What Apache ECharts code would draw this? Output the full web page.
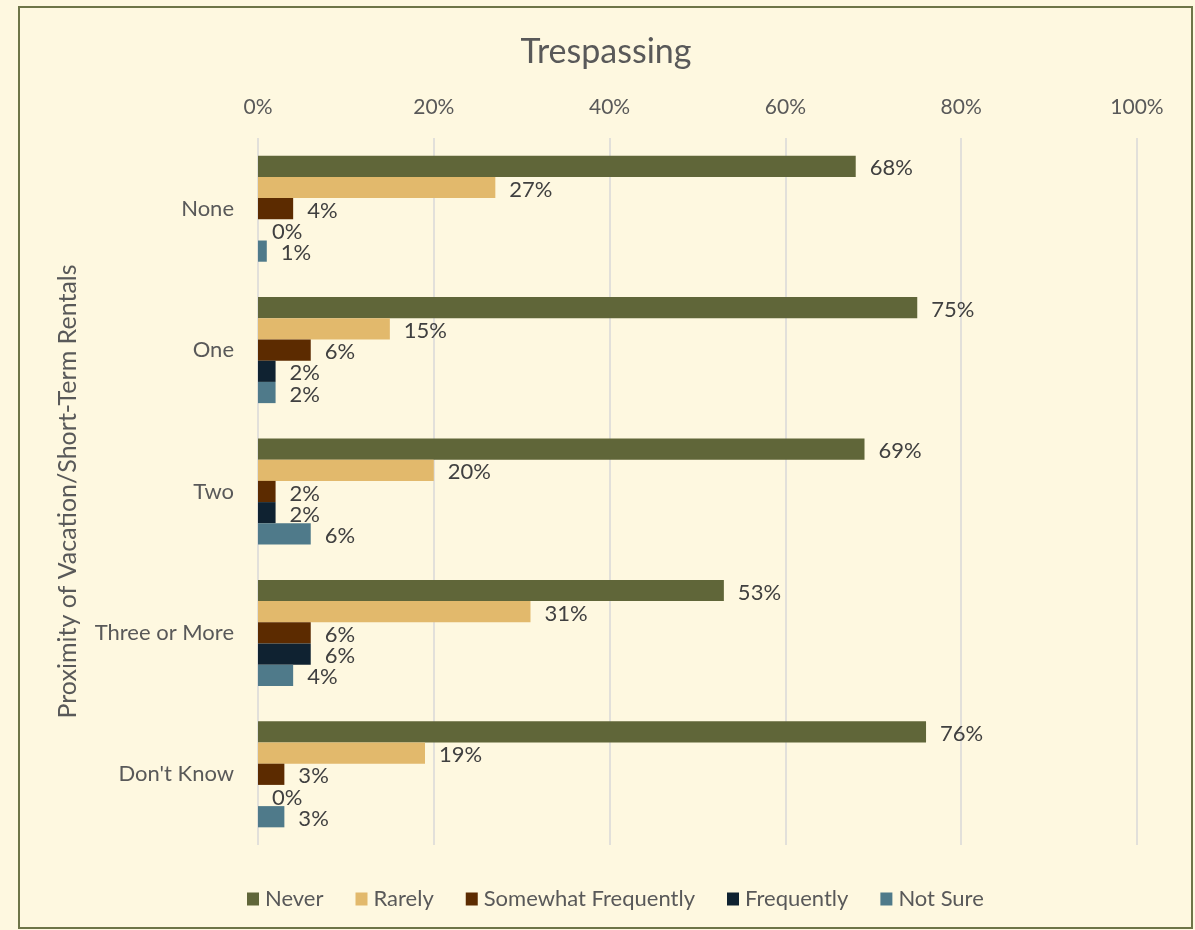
<!DOCTYPE html>
<html>
<head>
<meta charset="utf-8">
<script src="https://cdn.jsdelivr.net/npm/echarts@6/dist/echarts.min.js"></script>
<style>
  html, body { margin: 0; padding: 0; background: #fef8e0; }
  #chart { width: 1195px; height: 930px; }
</style>
</head>
<body>
<div id="chart"></div>
<script>
// 类别（从上到下）
const categories = ['None', 'One', 'Two', 'Three or More', "Don't Know"]
// 各系列的百分比数值
const seriesNames = ['Never', 'Rarely', 'Somewhat Frequently', 'Frequently', 'Not Sure']
const never = [68, 75, 69, 53, 76]
const rarely = [27, 15, 20, 31, 19]
const somewhatFrequently = [4, 6, 2, 6, 3]
const frequently = [0, 2, 2, 6, 0]
const notSure = [1, 2, 6, 4, 3]
const xTicks = [0, 20, 40, 60, 80, 100]

const colors = ['#606639', '#e2b96c', '#5c2b00', '#0f2231', '#4f7a8a']
const fontFamily = 'Lato, "Noto Sans", sans-serif'
const allValues = [never, rarely, somewhatFrequently, frequently, notSure]

const chart = echarts.init(document.getElementById('chart'))

const option = {
  backgroundColor: '#fef8e0',
  color: colors,
  textStyle: { fontFamily: fontFamily },
  title: {
    text: 'Trespassing',
    left: 606,
    top: 35,
    padding: 0,
    textAlign: 'center',
    textStyle: { fontSize: 34, fontWeight: 'normal', color: '#595959', fontFamily: fontFamily }
  },
  graphic: [{
    type: 'rect',
    shape: { x: 19, y: 7, width: 1173, height: 921 },
    style: { fill: 'none', stroke: '#6e7548', lineWidth: 2 },
    silent: true
  }],
  legend: {
    data: seriesNames,
    left: 242,
    top: 883,
    icon: 'rect',
    itemWidth: 12,
    itemHeight: 13,
    itemGap: 32,
    textStyle: { fontSize: 22, color: '#595959', fontFamily: fontFamily, padding: [0, 0, 0, 1] }
  },
  grid: {
    left: 258,
    right: 58,
    top: 138,
    bottom: 85,
    containLabel: false
  },
  xAxis: {
    type: 'value',
    position: 'top',
    min: 0,
    max: 100,
    interval: 20,
    axisLine: { show: false },
    axisTick: { show: false },
    axisLabel: {
      margin: 20,
      fontSize: 21,
      color: '#595959',
      formatter: v => (xTicks.indexOf(v) >= 0 ? v + '%' : '')
    },
    splitLine: { lineStyle: { color: '#d9d9d9', width: 1.5 } }
  },
  yAxis: {
    type: 'category',
    data: categories,
    inverse: true,
    name: 'Proximity of Vacation/Short-Term Rentals',
    nameLocation: 'middle',
    nameGap: 178,
    nameTextStyle: { fontSize: 25, color: '#595959' },
    axisLine: { show: false },
    axisTick: { show: false },
    axisLabel: { margin: 24, fontSize: 22, color: '#595959' }
  },
  series: seriesNames.map((name, i) => ({
    name: name,
    type: 'bar',
    data: allValues[i],
    barGap: '0%',
    barCategoryGap: '25%',
    label: {
      show: true,
      position: 'right',
      distance: 14,
      offset: [0, 2],
      fontSize: 22,
      color: '#404040',
      formatter: p => p.value + '%'
    }
  }))
}

chart.setOption(option)
</script>
</body>
</html>
